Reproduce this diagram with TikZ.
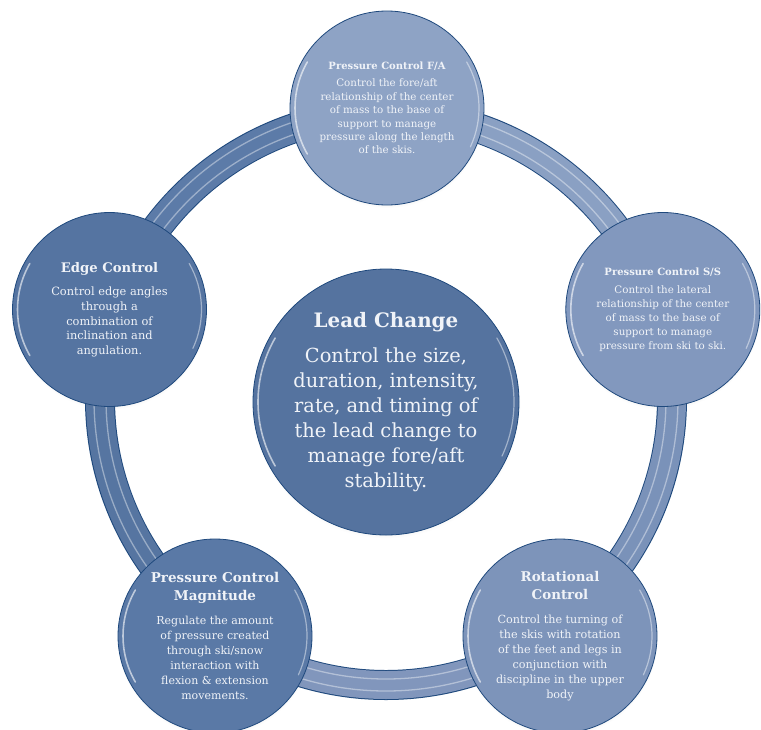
\documentclass[tikz,border=0pt]{standalone}
\usepackage{fontspec}
\setmainfont{DejaVu Serif}
\usepackage{tikz}
\usetikzlibrary{backgrounds,shadows}
\definecolor{c1f497d}{RGB}{31,73,125}
\definecolor{cf0f3f8}{RGB}{240,243,248}
\definecolor{c55739f}{RGB}{85,115,159}
\definecolor{c5574a1}{RGB}{85,116,161}
\definecolor{c8ea3c5}{RGB}{142,163,197}
\definecolor{c8298be}{RGB}{130,152,190}
\definecolor{c5a79a6}{RGB}{90,121,166}
\definecolor{c7d94ba}{RGB}{125,148,186}
\definecolor{c5c7ba8}{RGB}{92,123,168}
\definecolor{c5675a1}{RGB}{86,117,161}
\definecolor{c8196bc}{RGB}{129,150,188}
\definecolor{c7a92b9}{RGB}{122,146,185}
\definecolor{c8aa0c3}{RGB}{138,160,195}
\newcommand{\bubbletitle}[2]{{\bfseries\fontsize{#1}{#1}\selectfont #2}}

\tikzset{
  bubble/.style={circle, draw=c1f497d, line width=0.8pt, inner sep=0pt, outer sep=0pt,
    align=center, text=cf0f3f8, minimum size=2*#1,
    circular drop shadow={shadow xshift=0pt, shadow yshift=-2pt, opacity=.25, shadow scale=1.01},
    path picture={
      \draw[white, opacity=.6, line width=1.6pt, line cap=round]
        (path picture bounding box.center) ++(150:#1-5) arc[start angle=150, end angle=210, radius=#1-5];
      \draw[white, opacity=.45, line width=1.2pt, line cap=round]
        (path picture bounding box.center) ++(-25:#1-5) arc[start angle=-25, end angle=30, radius=#1-5];
    }},
  bandedge/.style={draw=c1f497d, line width=30pt},
  band/.style={draw=#1, line width=28pt},
  bandgloss/.style={draw=white, opacity=.4, line width=1.3pt},
}

\begin{document}
\begin{tikzpicture}[y=1pt, x=1pt, yscale=-1]
  \useasboundingbox (0,0) rectangle (761,729);
  \coordinate (hub) at (386,399);

  \node[bubble=133, fill=c55739f, font=\fontsize{19.4}{25}\selectfont] (lead) at (386,402)
    {\bubbletitle{19.9}{Lead Change}\\[10pt]
     Control the size,\\duration, intensity,\\rate, and timing of\\the lead change to\\manage fore/aft\\stability.};

  \node[bubble=97, fill=c8ea3c5, font=\fontsize{10.3}{13.4}\selectfont] (fa) at (387,108)
    {\bubbletitle{10}{Pressure Control F/A}\\[4pt]
     Control the fore/aft\\relationship of the center\\of mass to the base of\\support to manage\\pressure along the length\\of the skis.};

  \node[bubble=97, fill=c8298be, font=\fontsize{10.3}{14}\selectfont] (ss) at (662.8,309.5)
    {\bubbletitle{10}{Pressure Control S/S}\\[4pt]
     Control the lateral\\relationship of the center\\of mass to the base of\\support to manage\\pressure from ski to ski.};

  \node[bubble=97, fill=c5574a1, font=\fontsize{11.4}{14.7}\selectfont] (edge) at (109.5,309.5)
    {\bubbletitle{13.2}{Edge Control}\\[9pt]
     Control edge angles\\through a\\combination of\\inclination and\\angulation.};

  \node[bubble=97, fill=c5a79a6, font=\fontsize{11}{15}\selectfont] (mag) at (215,636)
    {\bubbletitle{13.5}{Pressure Control}\\[3pt]\bubbletitle{13.5}{Magnitude}\\[9pt]
     Regulate the amount\\of pressure created\\through ski/snow\\interaction with\\flexion \& extension\\movements.};

  \node[bubble=97, fill=c7d94ba, font=\fontsize{11.2}{15}\selectfont] (rot) at (560,636)
    {\bubbletitle{13.4}{Rotational}\\[3pt]\bubbletitle{13.4}{Control}\\[9pt]
     Control the turning of\\the skis with rotation\\of the feet and legs in\\conjunction with\\discipline in the upper\\body};

  \begin{scope}[on background layer]
    \draw[bandedge] (hub) circle[radius=286];
    \draw[band=c5c7ba8] (hub) ++(-90:286) arc[start angle=-90, end angle=-162, radius=286];
    \draw[band=c5675a1] (hub) ++(-162:286) arc[start angle=-162, end angle=-234, radius=286];
    \draw[band=c8196bc] (hub) ++(-234:286) arc[start angle=-234, end angle=-306, radius=286];
    \draw[band=c7a92b9] (hub) ++(-306:286) arc[start angle=-306, end angle=-378, radius=286];
    \draw[band=c8aa0c3] (hub) ++(-18:286) arc[start angle=-18, end angle=-90, radius=286];
    \draw[bandgloss] (hub) circle[radius=280];
    \draw[bandgloss] (hub) circle[radius=292];
  \end{scope}
\end{tikzpicture}
\end{document}
